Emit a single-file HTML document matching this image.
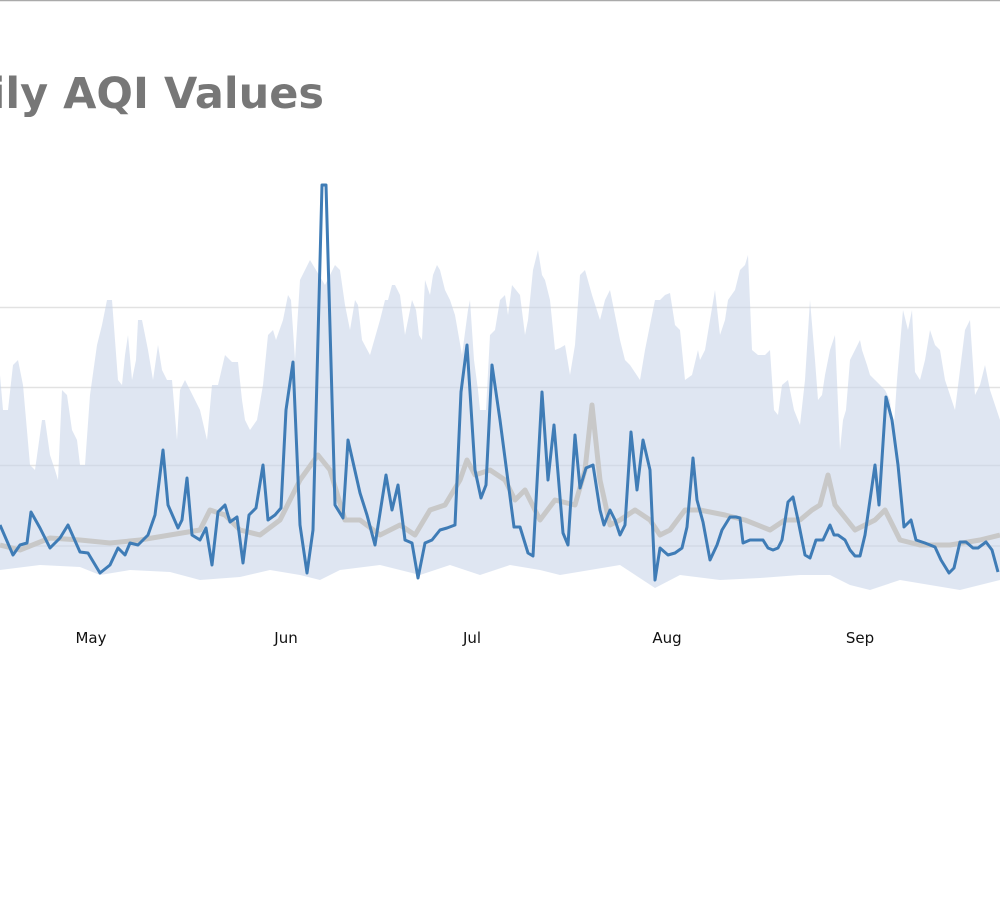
<!DOCTYPE html>
<html><head><meta charset="utf-8"><style>
html,body{margin:0;padding:0;background:#fff;}
svg{display:block;}
</style></head><body>
<svg width="1000" height="916" viewBox="0 0 1000 916" xmlns="http://www.w3.org/2000/svg">
<rect width="1000" height="916" fill="#fff"/>
<line x1="0" y1="0.5" x2="1000" y2="0.5" stroke="#aaa" stroke-width="1.5"/>
<text x="324" y="108" text-anchor="end" font-family="DejaVu Sans, sans-serif" font-weight="bold" font-size="43" fill="#777">aily AQI Values</text>
<g stroke="#e2e2e2" stroke-width="1.5">
<line x1="0" y1="307.5" x2="1000" y2="307.5"/>
<line x1="0" y1="387.5" x2="1000" y2="387.5"/>
<line x1="0" y1="465.5" x2="1000" y2="465.5"/>
<line x1="0" y1="546" x2="1000" y2="546"/>
</g>
<polygon fill="#c9d6e9" fill-opacity="0.6" points="0,375 3,410 8,410 13,365 18,360 23,385 30,465 35,470 42,420 45,420 50,455 55,470 58,480 62,390 67,395 72,430 77,440 80,465 85,465 90,395 97,345 102,325 107,300 112,300 118,380 122,385 125,355 128,335 132,380 136,360 138,320 142,320 148,350 153,380 158,345 162,370 167,380 172,380 177,440 180,390 185,380 195,400 200,410 207,440 212,385 218,385 225,355 232,362 238,362 242,400 245,420 250,430 257,420 263,385 268,335 273,330 276,340 283,320 288,295 291,300 295,360 300,280 310,260 325,285 335,265 340,270 345,305 350,330 355,300 358,305 362,340 370,355 380,320 385,300 388,300 392,285 395,285 400,295 405,335 412,300 416,310 419,335 422,340 425,280 430,295 433,275 437,265 440,270 445,290 450,300 455,315 462,355 468,310 470,300 474,360 478,390 480,410 486,410 490,335 495,330 500,300 505,295 508,315 512,285 520,295 525,335 528,320 533,270 538,250 542,275 545,280 550,300 555,350 560,348 565,345 570,375 575,345 580,275 585,270 592,295 600,320 605,300 610,290 615,315 620,340 625,360 630,365 640,380 645,350 650,325 655,300 660,300 665,295 670,293 675,325 680,330 685,380 692,375 698,350 700,360 705,350 710,320 715,290 720,335 725,320 728,300 735,290 740,270 745,265 748,255 752,350 758,355 765,355 770,350 774,410 778,415 782,385 788,380 790,390 794,410 800,425 805,380 810,300 815,360 818,400 822,395 825,375 830,350 835,335 840,450 843,420 846,410 850,360 855,350 860,340 862,350 867,365 870,375 875,380 880,385 885,390 890,400 893,440 897,380 900,345 903,310 908,330 912,310 915,372 920,380 925,360 930,330 935,345 940,350 945,380 950,395 955,410 960,370 965,330 970,320 975,395 980,385 985,365 990,390 995,405 1000,420 1000,580 960,590 930,585 900,580 870,590 850,585 830,575 800,575 760,578 720,580 680,575 655,588 620,565 590,570 560,575 540,570 510,565 480,575 450,565 420,575 380,565 340,570 320,580 300,575 270,570 240,577 200,580 170,572 130,570 100,575 80,567 40,565 0,570"/>
<polyline fill="none" stroke="#c8c8c8" stroke-width="5" stroke-linejoin="round" points="0,545 20,550 50,538 80,540 110,543 140,540 170,535 200,530 210,510 225,515 240,530 260,535 280,520 300,480 318,455 330,470 345,520 360,520 380,535 400,525 415,535 430,510 445,505 460,480 467,460 475,475 490,470 505,480 515,500 525,490 540,520 555,500 575,505 585,470 592,405 600,480 610,525 620,520 635,510 650,520 660,535 670,530 685,510 700,510 725,515 745,520 770,530 785,520 800,520 812,510 820,505 828,475 835,505 855,530 875,520 885,510 900,540 920,545 950,545 980,540 1000,535"/>
<polyline fill="none" stroke="#3f7cb6" stroke-width="3" stroke-linejoin="round" points="0,525 13,555 20,545 27,543 31,512 40,528 50,548 60,538 68,525 80,552 88,553 100,573 110,565 118,548 125,555 130,543 138,545 148,535 155,515 163,450 168,505 178,528 182,520 187,478 192,535 200,540 206,528 212,565 218,512 225,505 230,522 237,517 243,563 249,515 256,508 263,465 268,520 275,515 281,508 286,410 293,362 300,525 307,573 313,530 322,185 326,185 335,505 343,518 348,440 360,493 367,515 375,545 386,475 392,510 398,485 405,540 412,543 418,578 425,543 432,540 440,530 447,528 455,525 461,392 467,345 475,470 481,498 486,485 492,365 500,420 514,527 520,527 528,553 533,556 542,392 548,480 554,425 563,533 568,545 575,435 580,488 586,468 593,465 600,510 604,525 610,510 615,520 620,535 625,525 631,432 637,490 643,440 650,470 655,580 660,548 668,555 675,553 682,548 687,527 693,458 697,500 703,522 710,560 717,545 722,530 730,517 736,517 740,518 743,543 750,540 757,540 763,540 768,548 773,550 778,548 782,540 788,502 793,497 798,520 805,555 810,558 816,540 823,540 830,525 834,535 838,535 845,540 850,550 855,556 860,556 865,535 875,465 879,505 886,397 892,420 898,465 904,527 911,520 916,540 925,543 935,547 941,560 949,573 954,568 960,542 966,542 973,548 978,548 986,542 992,550 998,572"/>
<g font-family="DejaVu Sans, sans-serif" font-size="15" fill="#111" text-anchor="middle">
<text x="91" y="643">May</text>
<text x="286" y="643">Jun</text>
<text x="472" y="643">Jul</text>
<text x="667" y="643">Aug</text>
<text x="860" y="643">Sep</text>
</g>
</svg>
</body></html>
